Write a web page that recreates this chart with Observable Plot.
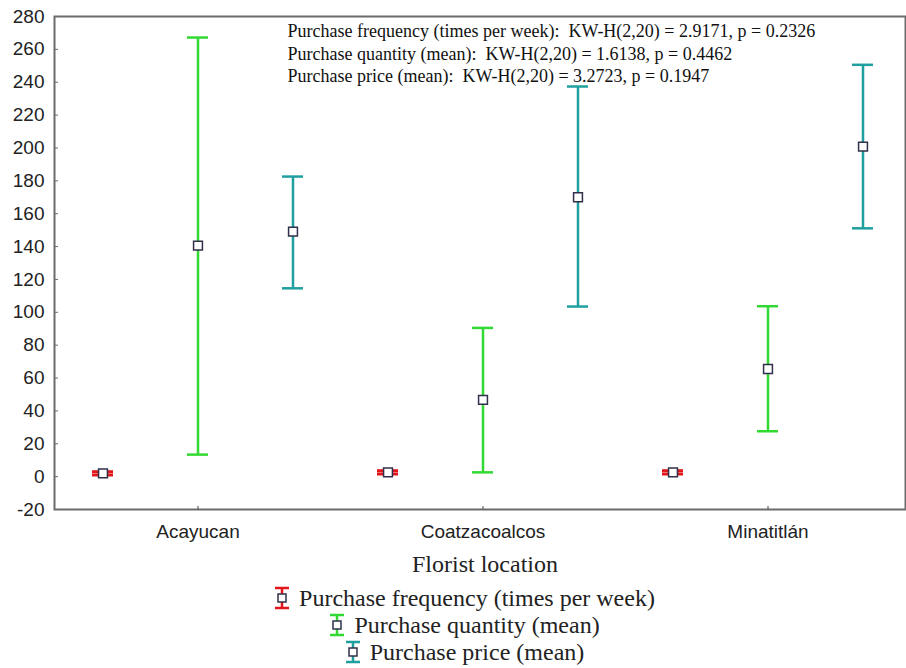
<!DOCTYPE html>
<html><head><meta charset="utf-8">
<script src="https://cdn.jsdelivr.net/npm/d3@7"></script>
<script src="https://cdn.jsdelivr.net/npm/@observablehq/plot@0.6"></script>
<style>
html,body{margin:0;padding:0;background:#fff;overflow:hidden;width:906px;height:668px;}
#xlabel{box-sizing:border-box;width:906px;padding-left:64px;text-align:center;font-family:"Liberation Serif","Times New Roman",serif;font-size:24px;color:#222;line-height:30px;margin-top:4px;}
#legend{box-sizing:border-box;width:906px;padding-left:22px;font-family:"Liberation Serif","Times New Roman",serif;font-size:24px;color:#222;margin-top:6px;}
#legend .item{text-align:center;line-height:27px;height:27px;white-space:nowrap;}
#legend svg{vertical-align:middle;margin-right:8px;position:relative;top:-2px;}
</style></head><body>
<div id="chart"></div>
<script>
const locations = ["Acayucan", "Coatzacoalcos", "Minatitlán"];
const seriesNames = ["Purchase frequency (times per week)", "Purchase quantity (mean)", "Purchase price (mean)"];
const seriesColors = ["#e3161b", "#32d932", "#1f9f9f"];
const freqMean = [2.0, 2.6, 2.6];
const freqLow = [1.0, 1.6, 1.6];
const freqHigh = [3.0, 3.6, 3.6];
const qtyMean = [140.6, 46.7, 65.5];
const qtyLow = [13.4, 2.6, 27.6];
const qtyHigh = [267.2, 90.5, 103.7];
const priceMean = [149.1, 170.0, 200.8];
const priceLow = [114.6, 103.5, 151.1];
const priceHigh = [182.6, 237.4, 250.6];
const yTicks = [-20, 0, 20, 40, 60, 80, 100, 120, 140, 160, 180, 200, 220, 240, 260, 280];
const noteLines = [
  "Purchase frequency (times per week):\u00a0 KW-H(2,20) = 2.9171, p = 0.2326",
  "Purchase quantity (mean):\u00a0 KW-H(2,20) = 1.6138, p = 0.4462",
  "Purchase price (mean):\u00a0 KW-H(2,20) = 3.2723, p = 0.1947"
];

const seriesData = [[freqMean, freqLow, freqHigh], [qtyMean, qtyLow, qtyHigh], [priceMean, priceLow, priceHigh]];
const rows = [];
locations.forEach((loc, i) => {
  seriesData.forEach(([m, lo, hi], s) => {
    rows.push({key: loc + "|" + s, loc, s, color: seriesColors[s], mean: m[i], low: lo[i], high: hi[i]});
  });
});
const keys = rows.map(d => d.key);
const tickKeys = locations.map(l => l + "|1");

const W = 906, H = 545;
const chart = Plot.plot({
  width: W, height: H,
  marginLeft: 54, marginRight: 1, marginTop: 16, marginBottom: H - 509,
  style: {fontFamily: "'Liberation Sans', Arial, sans-serif", fontSize: "19px", color: "#222", background: "#fff", overflow: "visible"},
  x: {type: "band", domain: keys, range: [52, 912], padding: 0},
  y: {domain: [-20, 280]},
  marks: [
    Plot.frame({stroke: "#6b6b6b", strokeWidth: 2}),
    Plot.axisY({ticks: yTicks, tickFormat: d => String(d), tickSize: -4, tickPadding: 14, label: null, stroke: "#6b6b6b", fill: "#222"}),
    Plot.axisX({ticks: tickKeys, tickFormat: k => k.split("|")[0], tickSize: -3, tickPadding: 17.5, label: null, stroke: "#444", fill: "#222"}),
    Plot.ruleX(rows, {x: "key", y1: "low", y2: "high", stroke: "color", strokeWidth: 2.5}),
    Plot.tickY(rows, {x: "key", y: "high", stroke: "color", strokeWidth: d => d.s === 0 ? 3 : 2.5, insetLeft: 37, insetRight: 37}),
    Plot.tickY(rows, {x: "key", y: "low", stroke: "color", strokeWidth: d => d.s === 0 ? 3 : 2.5, insetLeft: 37, insetRight: 37}),
    Plot.dot(rows, {x: "key", y: "mean", symbol: "square", r: 5, fill: "#fff", stroke: "#30304a", strokeWidth: 1.5}),
    Plot.text([noteLines.join("\n")], {frameAnchor: "top-left", textAnchor: "start", lineAnchor: "top", dx: 233, dy: 5, lineHeight: 1.25, fontFamily: "'Liberation Serif', 'Times New Roman', serif", fontSize: 18, fill: "#111"})
  ]
});
document.getElementById("chart").appendChild(chart);

const xl = document.createElement("div");
xl.id = "xlabel";
xl.textContent = "Florist location";
document.body.appendChild(xl);

const lg = document.createElement("div");
lg.id = "legend";
seriesNames.forEach((name, i) => {
  const it = document.createElement("div");
  it.className = "item";
  const c = seriesColors[i];
  it.innerHTML = `<svg width="18" height="24" viewBox="0 0 18 24"><line x1="2" x2="16" y1="2" y2="2" stroke="${c}" stroke-width="2.5"/><line x1="9" x2="9" y1="2" y2="22" stroke="${c}" stroke-width="2.5"/><line x1="2" x2="16" y1="22" y2="22" stroke="${c}" stroke-width="2.5"/><rect x="5" y="8" width="8" height="8" fill="#fff" stroke="#30304a" stroke-width="1.5"/></svg><span>${name}</span>`;
  lg.appendChild(it);
});
document.body.appendChild(lg);
</script></body></html>
